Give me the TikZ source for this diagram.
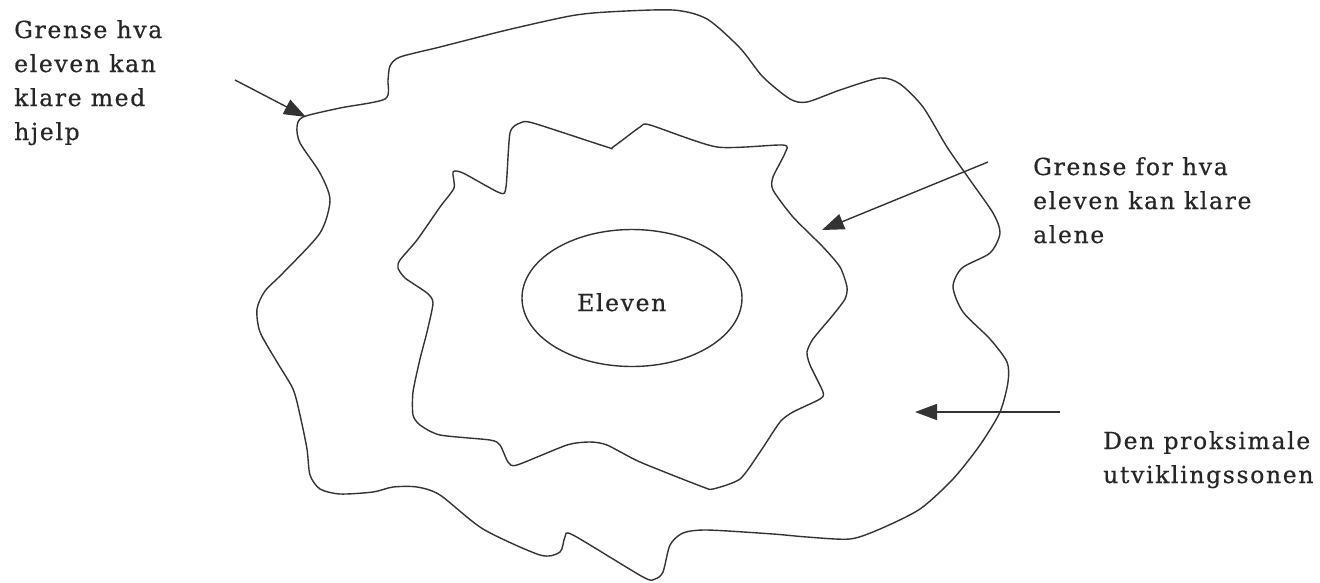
\documentclass[tikz,border=0pt]{standalone}
\usepackage{fontspec}
\usetikzlibrary{arrows.meta,shapes.geometric}
\newfontfamily\lblfont[LetterSpace=7,FakeBold=0.5]{DejaVu Serif}
\begin{document}
\begin{tikzpicture}[x=1pt,y=-1pt,
  zone/.style={line width=1.4pt, draw=black!80, line join=round},
  pointer/.style={line width=1.4pt, draw=black!80, -{Triangle[length=22pt,width=16pt]}},
  lbl/.style={anchor=base west, inner sep=0pt, text=black!85, font=\lblfont\fontsize{23.5}{34}\selectfont}]
\useasboundingbox[fill=white] (0,0) rectangle (1320,582);

% outer boundary (what the pupil can manage with help)
\draw[zone] plot[smooth cycle, tension=0.45] coordinates {
 (303,117) (340,108) (385,99) (388,80) (390,66) (400,57) (440,47) (507,30) (570,16)
 (607,12) (673,10) (707,19) (740,48) (763,77) (790,99) (807,102) (840,90) (880,78)
 (900,84) (923,107) (947,147) (970,180) (993,213) (1000,233) (990,253) (962,268)
 (953,287) (963,312) (990,339) (1007,362) (1008,382) (1000,412) (980,445) (953,479)
 (920,509) (880,529) (850,539) (807,537) (773,534) (707,530) (683,533) (670,545)
 (663,572) (655,579) (643,577) (573,535) (565,537) (560,552) (540,555) (483,529)
 (440,495) (417,487) (393,487) (373,492) (340,494) (320,489) (310,475) (307,449)
 (300,415) (293,389) (277,362) (260,332) (257,309) (265,291) (283,273) (320,233)
 (330,200) (320,173) (300,143) (297,127)};

% inner boundary (what the pupil can manage alone)
\draw[zone] plot[smooth cycle, tension=0.4] coordinates {
 (440,207) (454,188) (453,172) (463,173) (500,193) (506,187) (510,133) (520,123)
 (533,123) (607,147) (613,147) (640,127) (650,125) (717,147) (783,145) (785,153)
 (773,177) (773,190) (793,217) (823,247) (840,267) (847,287) (845,299) (833,315)
 (813,339) (807,352) (810,365) (823,392) (820,399) (793,412) (780,422) (760,452)
 (740,479) (713,489) (703,487) (640,462) (607,445) (590,442) (567,445) (517,465)
 (508,462) (500,445) (490,440) (440,435) (420,425) (413,415) (413,392) (420,359)
 (427,332) (433,303) (427,293) (405,278) (398,268) (400,260) (417,240)};

% the pupil
\node[ellipse, draw=black!80, line width=1.4pt, minimum width=220pt, minimum height=137pt, inner sep=0pt] (eleven) at (632,298) {};
\node[lbl] (elevenlbl) at (577,311) {Eleven};

% labels
\node[lbl] (ga) at (14,38) {Grense hva};
\node[lbl] (gb) at (14,72) {eleven kan};
\node[lbl] (gc) at (14,106) {klare med};
\node[lbl] (gd) at (14,140) {hjelp};

\node[lbl] (fa) at (1033,175) {Grense for hva};
\node[lbl] (fb) at (1033,209) {eleven kan klare};
\node[lbl] (fc) at (1033,243) {alene};

\node[lbl] (da) at (1103,449) {Den proksimale};
\node[lbl] (db) at (1103,483) {utviklingssonen};

% arrows
\coordinate (s1) at (235,80);   \coordinate (t1) at (306,117);
\coordinate (s2) at (988,162);  \coordinate (t2) at (822,230);
\coordinate (s3) at (1060,412); \coordinate (t3) at (915,412);
\draw[pointer] (s1) -- (t1);
\draw[pointer] (s2) -- (t2);
\draw[pointer] (s3) -- (t3);
\end{tikzpicture}
\end{document}
